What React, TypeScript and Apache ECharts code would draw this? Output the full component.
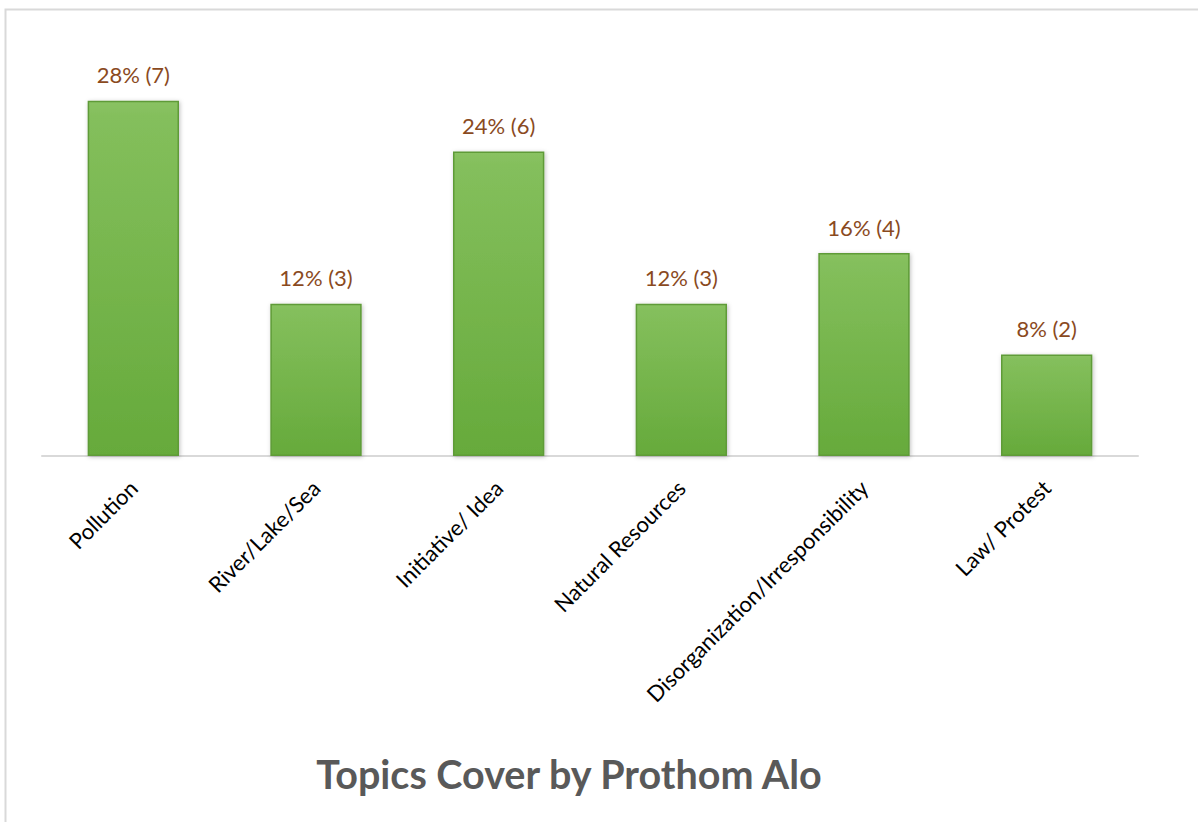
import React, { useEffect, useRef } from "react";
import * as echarts from "echarts";

const categories = [
  "Pollution",
  "River/Lake/Sea",
  "Initiative/ Idea",
  "Natural Resources",
  "Disorganization/Irresponsibility",
  "Law/ Protest",
];
const counts = [7, 3, 6, 3, 4, 2];
const percents = [28, 12, 24, 12, 16, 8];
const titleText = "Topics Cover by Prothom Alo";

export default function App() {
  const ref = useRef<HTMLDivElement>(null);
  useEffect(() => {
    if (!ref.current) return;
    const chart = echarts.init(ref.current, null, { renderer: "svg" });
    chart.setOption({
      animation: false,
      backgroundColor: "#ffffff",
      grid: { left: 42, right: 60, top: 50, bottom: 366, containLabel: false },
      xAxis: {
        type: "category",
        data: categories,
        axisLine: { show: true, lineStyle: { color: "#d9d9d9", width: 2 } },
        axisTick: { show: false },
        axisLabel: {
          rotate: 45,
          interval: 0,
          margin: 28,
          color: "#000000",
          fontFamily: "Lato",
          fontSize: 22,
        },
      },
      yAxis: {
        type: "value",
        min: 0,
        max: 8,
        show: false,
        splitLine: { show: false },
      },
      series: [
        {
          type: "bar",
          data: counts,
          barWidth: "50%",
          itemStyle: {
            color: new echarts.graphic.LinearGradient(0, 0, 0, 1, [
              { offset: 0, color: "#8AC263" },
              { offset: 0.04, color: "#84BF5C" },
              { offset: 1, color: "#66AA3B" },
            ]),
            borderColor: "#5E9B37",
            borderWidth: 1.5,
            shadowColor: "rgba(0,0,0,0.25)",
            shadowBlur: 4,
            shadowOffsetX: 1,
            shadowOffsetY: 1,
          },
          label: {
            show: true,
            position: "top",
            distance: 15,
            color: "#8A4A1E",
            fontFamily: "Lato",
            fontSize: 22,
            formatter: (p: any) => `${percents[p.dataIndex]}% (${counts[p.dataIndex]})`,
          },
        },
      ],
      graphic: [
        {
          type: "rect",
          silent: true,
          shape: { x: 5.5, y: 9.5, width: 1300, height: 900 },
          style: { fill: "none", stroke: "#d9d9d9", lineWidth: 2 },
        },
        {
          type: "text",
          x: 569,
          y: 773,
          style: {
            text: titleText,
            fill: "#595959",
            font: "bold 39.5px Lato",
            textAlign: "center",
            textVerticalAlign: "middle",
          },
        },
      ],
    });
    return () => chart.dispose();
  }, []);
  return (
    <div
      ref={ref}
      style={{ position: "fixed", left: 0, top: 0, width: 1198, height: 822 }}
    />
  );
}
